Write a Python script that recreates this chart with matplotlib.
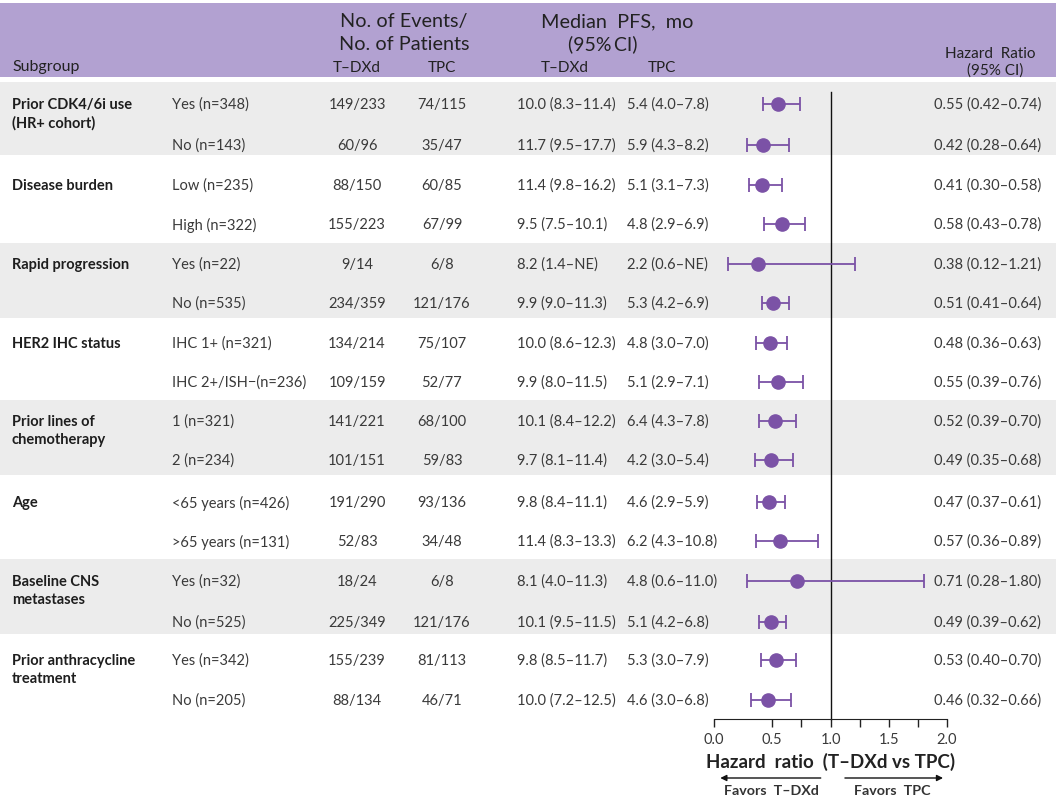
import matplotlib.pyplot as plt
import numpy as np

plt.rcParams['font.family'] = ['Lato', 'DejaVu Sans']

# ---- data ----
groups = ["Prior CDK4/6i use\n(HR+ cohort)", "Disease burden", "Rapid progression",
          "HER2 IHC status", "Prior lines of\nchemotherapy", "Age",
          "Baseline CNS\nmetastases", "Prior anthracycline\ntreatment"]
subgroups = ["Yes (n=348)", "No (n=143)",
             "Low (n=235)", "High (n=322)",
             "Yes (n=22)", "No (n=535)",
             "IHC 1+ (n=321)", "IHC 2+/ISH\u2212(n=236)",
             "1 (n=321)", "2 (n=234)",
             "<65 years (n=426)", ">65 years (n=131)",
             "Yes (n=32)", "No (n=525)",
             "Yes (n=342)", "No (n=205)"]
events_tdxd = ["149/233", "60/96", "88/150", "155/223", "9/14", "234/359", "134/214", "109/159",
               "141/221", "101/151", "191/290", "52/83", "18/24", "225/349", "155/239", "88/134"]
events_tpc = ["74/115", "35/47", "60/85", "67/99", "6/8", "121/176", "75/107", "52/77",
              "68/100", "59/83", "93/136", "34/48", "6/8", "121/176", "81/113", "46/71"]
pfs_tdxd = ["10.0 (8.3\u201311.4)", "11.7 (9.5\u201317.7)", "11.4 (9.8\u201316.2)", "9.5 (7.5\u201310.1)",
            "8.2 (1.4\u2013NE)", "9.9 (9.0\u201311.3)", "10.0 (8.6\u201312.3)", "9.9 (8.0\u201311.5)",
            "10.1 (8.4\u201312.2)", "9.7 (8.1\u201311.4)", "9.8 (8.4\u201311.1)", "11.4 (8.3\u201313.3)",
            "8.1 (4.0\u201311.3)", "10.1 (9.5\u201311.5)", "9.8 (8.5\u201311.7)", "10.0 (7.2\u201312.5)"]
pfs_tpc = ["5.4 (4.0\u20137.8)", "5.9 (4.3\u20138.2)", "5.1 (3.1\u20137.3)", "4.8 (2.9\u20136.9)",
           "2.2 (0.6\u2013NE)", "5.3 (4.2\u20136.9)", "4.8 (3.0\u20137.0)", "5.1 (2.9\u20137.1)",
           "6.4 (4.3\u20137.8)", "4.2 (3.0\u20135.4)", "4.6 (2.9\u20135.9)", "6.2 (4.3\u201310.8)",
           "4.8 (0.6\u201311.0)", "5.1 (4.2\u20136.8)", "5.3 (3.0\u20137.9)", "4.6 (3.0\u20136.8)"]
hr = np.array([0.55, 0.42, 0.41, 0.58, 0.38, 0.51, 0.48, 0.55,
               0.52, 0.49, 0.47, 0.57, 0.71, 0.49, 0.53, 0.46])
hr_lo = np.array([0.42, 0.28, 0.30, 0.43, 0.12, 0.41, 0.36, 0.39,
                  0.39, 0.35, 0.37, 0.36, 0.28, 0.39, 0.40, 0.32])
hr_hi = np.array([0.74, 0.64, 0.58, 0.78, 1.21, 0.64, 0.63, 0.76,
                  0.70, 0.68, 0.61, 0.89, 1.80, 0.62, 0.70, 0.66])

# ---- layout (pixel coordinates) ----
row_y = np.array([104, 145, 185, 224, 264, 303, 343, 382,
                  421, 460, 502, 541, 581, 622, 660, 700])
band_edges = [82, 155, 243, 318, 400, 475, 559, 634, 720]
purple = '#b2a1d1'
band_gray = '#ececec'
dot_col = '#7b52a6'
txt = '#3a3a3a'

fig = plt.figure(figsize=(10.56, 8.0), dpi=100)
ax = fig.add_axes([0, 0, 1, 1])
ax.set_xlim(0, 1056)
ax.set_ylim(800, 0)
ax.axis('off')

# header band and alternating group bands
ax.axhspan(3, 77, color=purple, lw=0)
for g in range(len(groups)):
    if g % 2 == 0:
        ax.axhspan(band_edges[g], band_edges[g + 1], color=band_gray, lw=0)

# header text
hk = dict(color='#222222', ha='center', va='center')
ax.text(12, 67, "Subgroup", fontsize=11.5, color='#222222', va='center')
ax.text(404, 22, "No. of Events/", fontsize=14.3, **hk)
ax.text(404, 44, "No. of Patients", fontsize=14.3, **hk)
ax.text(617, 22, "Median  PFS,  mo", fontsize=14.3, **hk)
ax.text(603, 44, "(95%\u2009CI)", fontsize=14, **hk)
ax.text(357, 68, "T\u2013DXd", fontsize=11, **hk)
ax.text(442, 68, "TPC", fontsize=11, **hk)
ax.text(565, 68, "T\u2013DXd", fontsize=11, **hk)
ax.text(662, 68, "TPC", fontsize=11, **hk)
ax.text(990, 54, "Hazard  Ratio", fontsize=11, **hk)
ax.text(995, 71, "(95% CI)", fontsize=11, **hk)

# group labels (one text per line so the first line sits on the first row)
for g, name in enumerate(groups):
    for k, line in enumerate(name.split("\n")):
        ax.text(12, row_y[2 * g] + 1 + 18 * k, line, fontsize=10.5, fontweight='bold',
                color='#1e1e1e', va='center', ha='left')

# row text
rk = dict(fontsize=10.5, color=txt, va='center')
for i in range(len(subgroups)):
    y = row_y[i] + 1
    ax.text(172, y, subgroups[i], **rk)
    ax.text(357, y, events_tdxd[i], ha='center', **rk)
    ax.text(442, y, events_tpc[i], ha='center', **rk)
    ax.text(517, y, pfs_tdxd[i], **rk)
    ax.text(627, y, pfs_tpc[i], **rk)
    ax.text(1041, y, f"{hr[i]:.2f} ({hr_lo[i]:.2f}\u2013{hr_hi[i]:.2f})", ha='right', **rk)

# ---- forest panel ----
axf = fig.add_axes([714 / 1056, 0, (947 - 714) / 1056, 1])
axf.patch.set_alpha(0)
axf.set_xlim(0, 2)
axf.set_ylim(800, 0)
for s in ['top', 'left', 'right']:
    axf.spines[s].set_visible(False)
axf.spines['bottom'].set_position(('data', 719))
axf.spines['bottom'].set_bounds(0, 2)
axf.spines['bottom'].set_color('#222222')
axf.set_yticks([])
axf.set_xticks([0, 0.5, 1.0, 1.5, 2.0])
axf.set_xticklabels(["0.0", "0.5", "1.0", "1.5", "2.0"])
axf.set_xticks([0.75, 1.25, 1.75], minor=True)
axf.tick_params(axis='x', which='both', direction='out', length=6, width=1,
                color='#222222', labelsize=10.5, labelcolor=txt, pad=4)

axf.plot([1, 1], [92, 719], color='#111111', lw=1)
axf.errorbar(hr, row_y, xerr=[hr - hr_lo, hr_hi - hr], fmt='o', color=dot_col,
             ms=9.5, elinewidth=1.3, capsize=5, capthick=1.3, clip_on=False)

axf.text(1.0, 762, "Hazard  ratio  (T\u2013DXd vs TPC)", fontsize=13.5, fontweight='bold',
         color='#222222', ha='center', va='center')
axf.annotate("", xy=(0.03, 778), xytext=(0.94, 778),
             arrowprops=dict(arrowstyle='-|>', color='#111111', lw=1, mutation_scale=9),
             annotation_clip=False)
axf.annotate("", xy=(1.99, 778), xytext=(1.10, 778),
             arrowprops=dict(arrowstyle='-|>', color='#111111', lw=1, mutation_scale=9),
             annotation_clip=False)
axf.text(0.49, 791, "Favors  T\u2013DXd", fontsize=10.3, fontweight='bold', color='#333333',
         ha='center', va='center')
axf.text(1.53, 791, "Favors  TPC", fontsize=10.3, fontweight='bold', color='#333333',
         ha='center', va='center')

fig.savefig('out.png', dpi=100)
